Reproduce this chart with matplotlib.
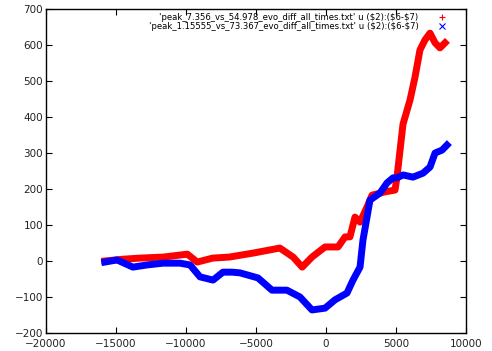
import matplotlib
matplotlib.use("Agg")
import matplotlib.pyplot as plt
from matplotlib.lines import Line2D

# series (x = column 2, y = col6 - col7)
red_x = [-15800, -14500, -13300, -11600, -9900, -9200, -8100, -6900, -5200, -3300,
         -2350, -1700, -1000, -70, 860, 1360, 1710, 2070, 2430, 2930, 3290, 4210,
         4930, 5070, 5500, 6000, 6360, 6710, 7070, 7430, 7790, 8140, 8500]
red_y = [0, 5, 8, 11, 19, -3, 8, 11, 22, 36,
         11, -17, 11, 39, 39, 67, 67, 122, 108, 150, 183, 192,
         197, 233, 380, 447, 511, 586, 614, 633, 606, 592, 606]

blue_x = [-15800, -14930, -13790, -12790, -11640, -10430, -9710, -9000, -8070, -7360,
          -6710, -6140, -4860, -3860, -2790, -1860, -1000, -70, 640, 1500, 1930,
          2430, 2640, 2930, 3140, 3860, 4360, 4790, 5070, 5500, 6210, 6930, 7430,
          7790, 8290, 8640]
blue_y = [-3, 3, -17, -11, -6, -6, -11, -44, -53, -31,
          -31, -33, -47, -81, -81, -100, -136, -131, -108, -89, -53,
          -17, 58, 122, 169, 189, 217, 231, 231, 239, 233, 244, 261,
          300, 308, 322]

labels = ["'peak_7.356_vs_54.978_evo_diff_all_times.txt' u ($2):($6-$7)",
          "'peak_1.15555_vs_73.367_evo_diff_all_times.txt' u ($2):($6-$7)"]

fig = plt.figure(figsize=(4.92, 3.51), dpi=100)
ax = fig.add_axes([46/492, 18/351, 420/492, 324/351])

ax.plot(red_x, red_y, color='#ff0000', lw=5, solid_joinstyle='round')
ax.plot(blue_x, blue_y, color='#0000ff', lw=5, solid_joinstyle='round')

ax.set_xlim(-20000, 10000)
ax.set_ylim(-200, 700)
ax.set_xticks(range(-20000, 10001, 5000))
ax.set_yticks(range(-200, 701, 100))
ax.tick_params(direction='in', top=True, right=True, length=4, width=0.8,
               labelsize=7.5, labelcolor='#222222', pad=2)
ax.tick_params(axis='x', pad=4)
for s in ax.spines.values():
    s.set_linewidth(1.0)

handles = [Line2D([], [], color='#ff0000', marker='+', ls='none', ms=5, mew=0.8),
           Line2D([], [], color='#0000ff', marker='x', ls='none', ms=4, mew=0.8)]
ax.legend(handles, labels, loc='upper right', markerfirst=False, frameon=False,
          fontsize=6.1, handlelength=1.0, handletextpad=2.3, labelspacing=0.05,
          borderpad=0, borderaxespad=0, bbox_to_anchor=(446.4/492, 1 - 12.5/351),
          bbox_transform=fig.transFigure)

fig.savefig("out.png", dpi=100)
